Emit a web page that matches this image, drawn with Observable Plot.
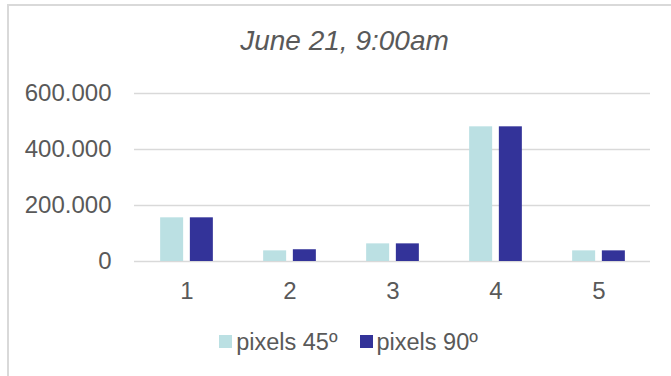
<!DOCTYPE html>
<html>
<head>
<meta charset="utf-8">
<script src="https://cdn.jsdelivr.net/npm/d3@7"></script>
<script src="https://cdn.jsdelivr.net/npm/@observablehq/plot@0.6"></script>
<style>
  html, body { margin: 0; padding: 0; background: #fff; }
  #wrap { position: relative; width: 671px; height: 376px; overflow: hidden; font-family: "Liberation Sans", Arial, sans-serif; }
  #frame { position: absolute; left: 7px; top: 4px; width: 700px; height: 400px; border-left: 2px solid #d9d9d9; border-top: 2px solid #d9d9d9; box-sizing: border-box; }
  #title { position: absolute; left: 0; width: 689px; top: 27px; line-height: 28px; text-align: center; font-style: italic; font-size: 28px; color: #595959; white-space: nowrap; }
  #chart { position: absolute; left: 0; top: 0; }
  #legend { position: absolute; left: 0; width: 697px; top: 328px; line-height: 24px; text-align: center; font-size: 23.5px; color: #595959; white-space: nowrap; }
  .item { display: inline-flex; align-items: center; margin: 0 11px; }
  .sw { display: inline-block; width: 13px; height: 13px; margin-right: 4px; }
</style>
</head>
<body>
<div id="wrap">
  <div id="frame"></div>
  <div id="title">June 21, 9:00am</div>
  <div id="chart"></div>
  <div id="legend"></div>
</div>
<script>
const categories = ["1", "2", "3", "4", "5"];
const series = ["pixels 45º", "pixels 90º"];
const pixels45 = [156000, 38000, 63000, 481000, 38000];
const pixels90 = [156000, 42000, 63000, 481000, 38000];
const yTicks = [0, 200000, 400000, 600000];
const colors = ["#bbe0e3", "#333399"];

const rows = [];
categories.forEach((c, i) => {
  rows.push({cat: c, series: series[0], value: pixels45[i]});
  rows.push({cat: c, series: series[1], value: pixels90[i]});
});

const fmt = d3.formatLocale({decimal: ",", thousands: ".", grouping: [3], currency: ["", ""]}).format(",");

const plot = Plot.plot({
  width: 671,
  height: 310,
  marginTop: 93,
  marginBottom: 49,
  marginLeft: 134,
  marginRight: 21,
  style: {fontFamily: "Liberation Sans, Arial, sans-serif", fontSize: "24px", color: "#595959", background: "transparent", overflow: "visible"},
  x: {domain: categories, paddingInner: 0.777, paddingOuter: 0.3885, label: null},
  y: {domain: [0, 600000], label: null},
  color: {domain: series, range: colors},
  marks: [
    Plot.gridY(yTicks, {stroke: "#d9d9d9", strokeOpacity: 1, strokeWidth: 1.5}),
    Plot.axisY({ticks: yTicks, tickFormat: fmt, tickSize: 0, tickPadding: 23, fill: "#595959", fontSize: 24}),
    Plot.axisX({tickSize: 0, tickPadding: 20, fill: "#595959", fontSize: 24}),
    Plot.barY(rows.filter(d => d.series === series[0]), {x: "cat", y: "value", fill: "series", dx: -14.85, inset: 0}),
    Plot.barY(rows.filter(d => d.series === series[1]), {x: "cat", y: "value", fill: "series", dx: 14.85, inset: 0})
  ]
});
document.getElementById("chart").appendChild(plot);

const legend = document.getElementById("legend");
series.forEach((s, i) => {
  const item = document.createElement("span");
  item.className = "item";
  const sw = document.createElement("span");
  sw.className = "sw";
  sw.style.background = colors[i];
  item.appendChild(sw);
  item.appendChild(document.createTextNode(s));
  legend.appendChild(item);
});
</script>
</body>
</html>
